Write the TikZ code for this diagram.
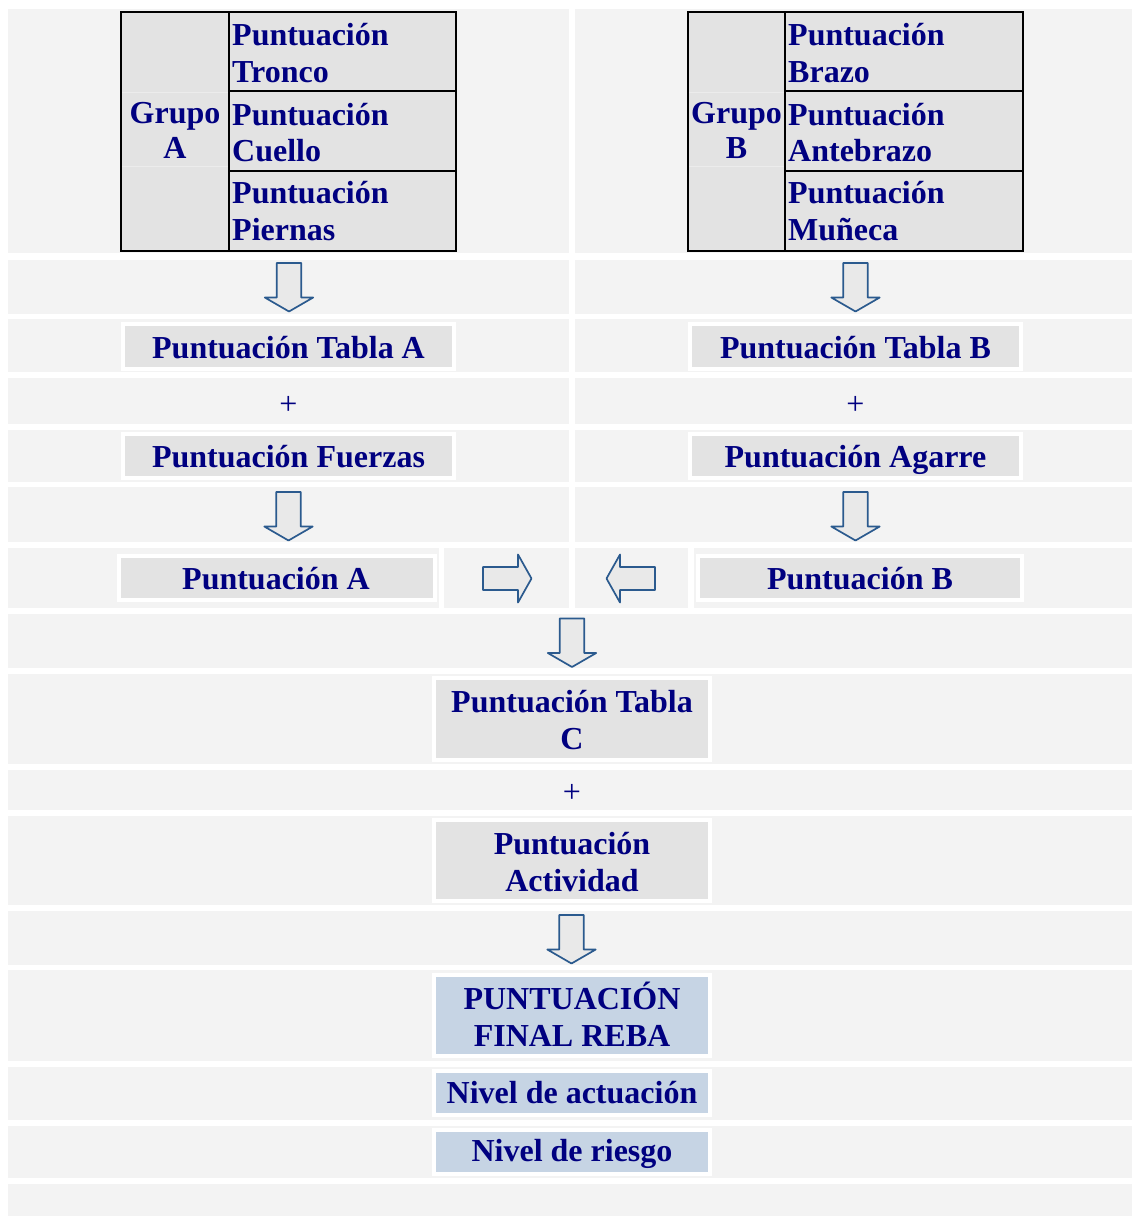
\documentclass[tikz,border=0pt]{standalone}
\usepackage{fontspec}
\setmainfont{Liberation Serif}
\begin{document}
\begin{tikzpicture}[x=1pt,y=-1pt,
  cellbg/.style={fill=cellgray},
  box/.style={rectangle, draw=white, line width=4pt, fill=boxgray, inner sep=0pt},
  bluebox/.style={box, fill=boxblue},
  txt/.style={anchor=base, inner sep=0pt, text=navytext, font=\bfseries\fontsize{32}{37}\selectfont},
  ltxt/.style={txt, anchor=base west},
  plustxt/.style={anchor=base, inner sep=0pt, text=navytext, font=\fontsize{32}{37}\selectfont},
  arrowstyle/.style={draw=arrowblue, fill=arrowfill, line width=1.7pt, line join=round},
  downarrow/.pic={\path[arrowstyle] (-12.2,0) -- (12.2,0) -- (12.2,34.5) -- (24.2,34.5)
      -- (0,48.5) -- (-24.2,34.5) -- (-12.2,34.5) -- cycle;},
  rightarrow/.pic={\path[arrowstyle] (0,-11.5) -- (35,-11.5) -- (35,-24) -- (48.5,0)
      -- (35,24) -- (35,11.5) -- (0,11.5) -- cycle;},
  leftarrow/.pic={\path[arrowstyle] (0,-11.5) -- (-35,-11.5) -- (-35,-24) -- (-48.5,0)
      -- (-35,24) -- (-35,11.5) -- (0,11.5) -- cycle;}
]
\definecolor{cellgray}{HTML}{F3F3F3}
\definecolor{boxgray}{HTML}{E3E3E3}
\definecolor{boxblue}{HTML}{C6D4E4}
\definecolor{navytext}{HTML}{000080}
\definecolor{arrowblue}{HTML}{2B5A8E}
\definecolor{arrowfill}{HTML}{E9E9E9}
\definecolor{faintline}{HTML}{ECECEC}

% page
\fill[white] (0,0) rectangle (1132,1216);
\useasboundingbox (0,0) rectangle (1132,1216);

% layout cells: two columns
\foreach \ya/\yb in {9/253, 259.5/313.5, 319/372, 377.5/424, 430/481.5, 487/542}{
  \fill[cellbg] (8,\ya) rectangle (569,\yb);
  \fill[cellbg] (575,\ya) rectangle (1132,\yb);
}
% row with the horizontal arrows
\fill[cellbg] (8,548) rectangle (439,608);
\fill[cellbg] (444,548) rectangle (569,608);
\fill[cellbg] (575,548) rectangle (688,608);
\fill[cellbg] (694,548) rectangle (1132,608);
% full-width rows
\foreach \ya/\yb in {614/668, 674/764, 770/810, 816/905, 911/964.5, 970/1061, 1067/1120, 1125.5/1178, 1184/1216}{
  \fill[cellbg] (8,\ya) rectangle (1132,\yb);
}

% ---- Group A table ----
\fill[boxgray] (121,12) rectangle (456,251);
\draw[faintline, line width=1pt] (122,92) -- (228,92) (122,166) -- (228,166);
\draw[black, line width=1.2pt] (229,91) -- (456,91);
\draw[black, line width=2pt] (229,171) -- (456,171);
\draw[black, line width=2pt] (229,12) -- (229,251);
\draw[black, line width=2pt] (121,12) rectangle (456,251);
\node[txt] (gA1) at (175,123) {Grupo};
\node[txt] (gA2) at (175,158) {A};
\node[ltxt] (a11) at (232,45) {Puntuación};
\node[ltxt] (a12) at (232,82) {Tronco};
\node[ltxt] (a21) at (232,125) {Puntuación};
\node[ltxt] (a22) at (232,161) {Cuello};
\node[ltxt] (a31) at (232,203) {Puntuación};
\node[ltxt] (a32) at (232,240) {Piernas};

% ---- Group B table ----
\fill[boxgray] (688,12) rectangle (1023,251);
\draw[faintline, line width=1pt] (689,92) -- (784,92) (689,166) -- (784,166);
\draw[black, line width=1.2pt] (785,91) -- (1023,91);
\draw[black, line width=2pt] (785,171) -- (1023,171);
\draw[black, line width=2pt] (785,12) -- (785,251);
\draw[black, line width=2pt] (688,12) rectangle (1023,251);
\node[txt] (gB1) at (736.5,123) {Grupo};
\node[txt] (gB2) at (736.5,158) {B};
\node[ltxt] (b11) at (788,45) {Puntuación};
\node[ltxt] (b12) at (788,82) {Brazo};
\node[ltxt] (b21) at (788,125) {Puntuación};
\node[ltxt] (b22) at (788,161) {Antebrazo};
\node[ltxt] (b31) at (788,203) {Puntuación};
\node[ltxt] (b32) at (788,240) {Muñeca};

% ---- score boxes ----
\node[box, minimum width=331pt, minimum height=45pt] (tablaA) at (288.5,346.5) {};
\node[txt] (tablaAt) at (288.5,358) {Puntuación Tabla A};
\node[plustxt] (plusA) at (288.5,414) {+};
\node[box, minimum width=331pt, minimum height=44pt] (fuerzas) at (288.5,456) {};
\node[txt] (fuerzast) at (288.5,467) {Puntuación Fuerzas};

\node[box, minimum width=331pt, minimum height=45pt] (tablaB) at (855.5,346.5) {};
\node[txt] (tablaBt) at (855.5,358) {Puntuación Tabla B};
\node[plustxt] (plusB) at (855.5,414) {+};
\node[box, minimum width=331pt, minimum height=44pt] (agarre) at (855.5,456) {};
\node[txt] (agarret) at (855.5,467) {Puntuación Agarre};

\node[box, minimum width=316pt, minimum height=44pt] (puntA) at (277,578) {};
\node[txt] (puntAt) at (276,589) {Puntuación A};
\node[box, minimum width=324pt, minimum height=44pt] (puntB) at (860,578) {};
\node[txt] (puntBt) at (860,589) {Puntuación B};

\node[box, minimum width=276pt, minimum height=82pt] (tablaC) at (572,719) {};
\node[txt] (tablaCt1) at (572,712) {Puntuación Tabla};
\node[txt] (tablaCt2) at (572,749) {C};
\node[plustxt] (plusC) at (572,802) {+};
\node[box, minimum width=276pt, minimum height=81pt] (actividad) at (572,860.5) {};
\node[txt] (activt1) at (572,854) {Puntuación};
\node[txt] (activt2) at (572,891) {Actividad};

\node[bluebox, minimum width=276pt, minimum height=81pt] (final) at (572,1015.5) {};
\node[txt] (finalt1) at (572,1009) {PUNTUACIÓN};
\node[txt] (finalt2) at (572,1046) {FINAL REBA};
\node[bluebox, minimum width=276pt, minimum height=44pt] (actuacion) at (572,1093) {};
\node[txt] (actuaciont) at (572,1103) {Nivel de actuación};
\node[bluebox, minimum width=276pt, minimum height=44pt] (riesgo) at (572,1152) {};
\node[txt] (riesgot) at (572,1161) {Nivel de riesgo};

% ---- block arrows ----
\pic at (289,263) {downarrow};
\pic at (855.5,263) {downarrow};
\pic at (288.5,492) {downarrow};
\pic at (855.5,492) {downarrow};
\pic at (483,578.5) {rightarrow};
\pic at (655,578.5) {leftarrow};
\pic at (572,618.5) {downarrow};
\pic at (571.5,915) {downarrow};
\end{tikzpicture}
\end{document}
